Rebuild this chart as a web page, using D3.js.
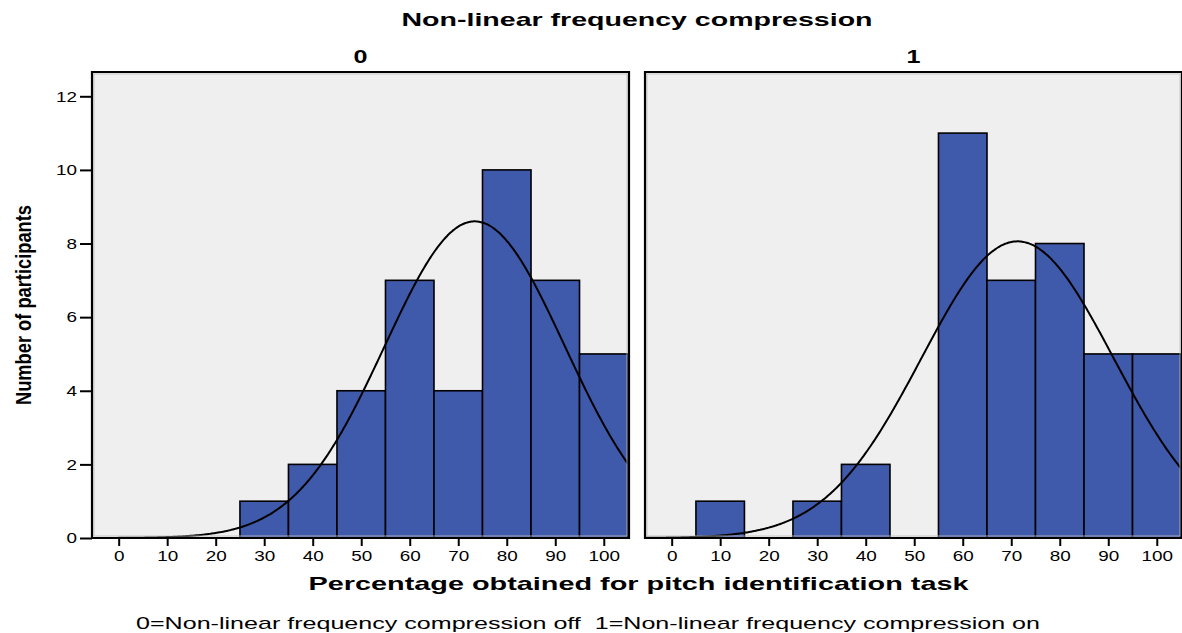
<!DOCTYPE html>
<html>
<head>
<meta charset="utf-8">
<script src="https://cdn.jsdelivr.net/npm/d3@7"></script>
<style>
  html, body { margin: 0; padding: 0; background: #ffffff; }
  svg { display: block; font-family: "Liberation Sans", Arial, sans-serif; }
</style>
</head>
<body>
<svg id="chart" width="1182" height="633"></svg>
<script>
// Histogram bins (centre of each 10-point bin)
const binCenters = [0, 10, 20, 30, 40, 50, 60, 70, 80, 90, 100];
// Participant counts per bin, NLFC off (panel 0) and on (panel 1)
const countsOff = [0, 0, 0, 1, 2, 4, 7, 4, 10, 7, 5];
const countsOn  = [0, 1, 0, 1, 2, 0, 11, 7, 8, 5, 5];
const panelLabels = ["0", "1"];
// Fitted normal curve parameters per panel
const fitMean = [73.4, 71.3];
const fitSd   = [18.55, 19.8];
const xTicks = [0, 10, 20, 30, 40, 50, 60, 70, 80, 90, 100];
const yTicks = [0, 2, 4, 6, 8, 10, 12];
const binWidth = 10;

const svg = d3.select("#chart");

const panelTop = 72, panelBottom = 538;
const panels = [
  { x0: 92, x1: 629, counts: countsOff },
  { x0: 645, x1: 1182, counts: countsOn }
];

const y = d3.scaleLinear().domain([0, 12.66]).range([panelBottom, panelTop]);

const defs = svg.append("defs");

// tick labels are drawn slightly wide
function styleTickText(sel) {
  sel.attr("font-family", "Liberation Sans, Arial, sans-serif")
    .attr("font-size", 15).attr("fill", "#000")
    .attr("textLength", function () { return this.textContent.length * 10.5; })
    .attr("lengthAdjust", "spacingAndGlyphs");
}

panels.forEach((p, i) => {
  const x = d3.scaleLinear().domain([-5.5, 105.2]).range([p.x0, p.x1]);
  const g = svg.append("g");

  // panel background
  g.append("rect")
    .attr("x", p.x0).attr("y", panelTop)
    .attr("width", p.x1 - p.x0).attr("height", panelBottom - panelTop)
    .attr("fill", "#efefef");

  defs.append("clipPath").attr("id", "clip" + i)
    .append("rect")
    .attr("x", p.x0).attr("y", panelTop)
    .attr("width", p.x1 - p.x0).attr("height", panelBottom - panelTop);

  // bars
  const bins = binCenters.map((c, k) => ({ c, n: p.counts[k] })).filter(d => d.n > 0);
  g.selectAll("rect.bar").data(bins).enter().append("rect")
    .attr("class", "bar")
    .attr("x", d => x(d.c - binWidth / 2))
    .attr("y", d => y(d.n))
    .attr("width", d => x(d.c + binWidth / 2) - x(d.c - binWidth / 2))
    .attr("height", d => y(0) - y(d.n))
    .attr("fill", "#3f59ab")
    .attr("stroke", "#000")
    .attr("stroke-width", 1.6);

  // normal curve scaled to counts
  const total = d3.sum(p.counts);
  const mu = fitMean[i], sd = fitSd[i];
  const pdf = v => total * binWidth / (sd * Math.sqrt(2 * Math.PI)) *
                   Math.exp(-((v - mu) ** 2) / (2 * sd * sd));
  const xs = d3.range(-5.5, 105.3, 0.25);
  g.append("path")
    .datum(xs)
    .attr("clip-path", "url(#clip" + i + ")")
    .attr("fill", "none")
    .attr("stroke", "#000")
    .attr("stroke-width", 2)
    .attr("d", d3.line().x(v => x(v)).y(v => y(pdf(v))).curve(d3.curveBasis));

  // frame
  g.append("rect")
    .attr("x", p.x0 + 2).attr("y", panelTop + 2)
    .attr("width", p.x1 - p.x0 - 4).attr("height", panelBottom - panelTop - 4)
    .attr("fill", "none").attr("stroke", "#bdbdbd").attr("stroke-width", 0.8);
  g.append("path")
    .attr("d", `M${p.x0},${panelBottom}V${panelTop}H${p.x1}V${panelBottom}Z`)
    .attr("fill", "none").attr("stroke", "#000").attr("stroke-width", 2.2);

  // x axis
  const xAxis = d3.axisBottom(x).tickValues(xTicks).tickSize(8).tickPadding(4);
  const ax = g.append("g").attr("transform", `translate(0,${panelBottom})`).call(xAxis);
  ax.select(".domain").remove();
  ax.selectAll(".tick line").attr("stroke", "#000").attr("stroke-width", 2);
  ax.selectAll(".tick text").call(styleTickText);

  // panel label
  svg.append("text")
    .attr("x", (p.x0 + p.x1) / 2).attr("y", 63)
    .attr("text-anchor", "middle")
    .attr("font-size", 19).attr("font-weight", "bold")
    .attr("textLength", 14).attr("lengthAdjust", "spacingAndGlyphs")
    .text(panelLabels[i]);
});

// y axis on the left panel
const yAxis = d3.axisLeft(y).tickValues(yTicks).tickSize(12).tickPadding(3);
const ay = svg.append("g").attr("transform", `translate(${panels[0].x0},0)`).call(yAxis);
ay.select(".domain").remove();
ay.selectAll(".tick line").attr("stroke", "#000").attr("stroke-width", 2);
ay.selectAll(".tick text").call(styleTickText);

// titles
svg.append("text")
  .attr("x", 637).attr("y", 26)
  .attr("text-anchor", "middle")
  .attr("font-size", 18.5).attr("font-weight", "bold")
  .attr("textLength", 471).attr("lengthAdjust", "spacingAndGlyphs")
  .text("Non-linear frequency compression");

svg.append("text")
  .attr("x", 638.5).attr("y", 590)
  .attr("text-anchor", "middle")
  .attr("font-size", 19).attr("font-weight", "bold")
  .attr("textLength", 660).attr("lengthAdjust", "spacingAndGlyphs")
  .text("Percentage obtained for pitch identification task");

svg.append("text")
  .attr("transform", "translate(31,305) rotate(-90)")
  .attr("text-anchor", "middle")
  .attr("font-family", "Liberation Sans Narrow, Liberation Sans, Arial, sans-serif")
  .attr("font-size", 22).attr("font-weight", "bold")
  .attr("textLength", 200).attr("lengthAdjust", "spacingAndGlyphs")
  .text("Number of participants");

svg.append("text")
  .attr("x", 136).attr("y", 629)
  .attr("font-size", 17)
  .attr("textLength", 904).attr("lengthAdjust", "spacingAndGlyphs")
  .text("0=Non-linear frequency compression off\u00a0\u00a01=Non-linear frequency compression on");
</script>
</body>
</html>
